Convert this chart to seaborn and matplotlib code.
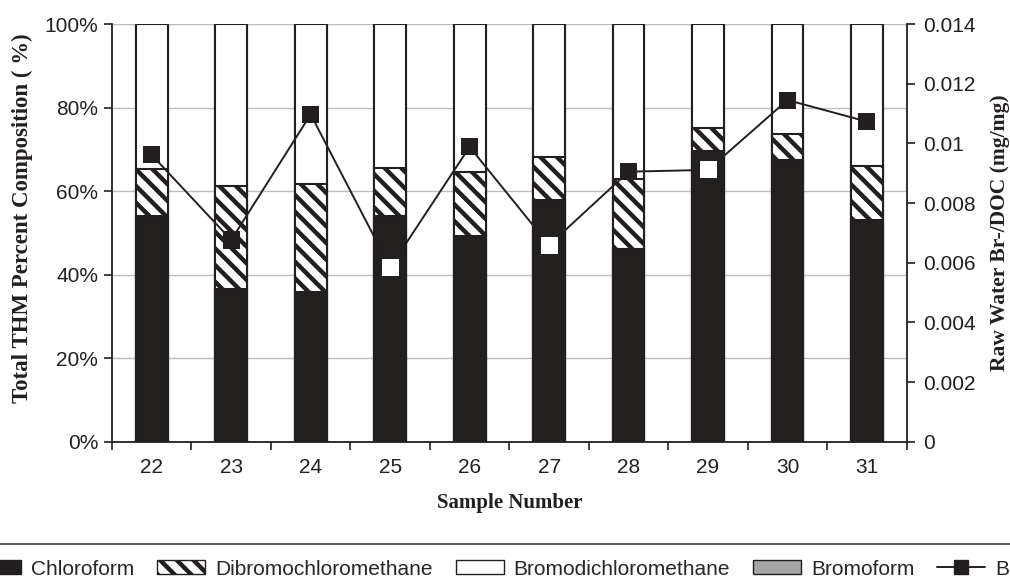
import numpy as np
import pandas as pd
import matplotlib
matplotlib.use("Agg")
import matplotlib.pyplot as plt
from matplotlib.patches import Patch
from matplotlib.lines import Line2D
from matplotlib.ticker import FuncFormatter, FixedLocator
import seaborn as sns

# THM composition per sample (% of total THM)
samples = ["22", "23", "24", "25", "26", "27", "28", "29", "30", "31"]
chloroform = [54.0, 36.5, 35.9, 54.0, 49.2, 57.9, 46.1, 69.6, 67.4, 53.1]
dibromochloromethane = [11.2, 24.8, 25.8, 11.5, 15.3, 10.3, 16.8, 5.4, 6.2, 13.0]
bromodichloromethane = [34.8, 38.7, 38.3, 34.5, 35.5, 31.8, 37.1, 25.0, 26.4, 33.9]
bromoform = [0.0, 0.0, 0.0, 0.0, 0.0, 0.0, 0.0, 0.0, 0.0, 0.0]
# raw water bromide to DOC ratio (mg/mg)
br_doc = [0.00961, 0.00676, 0.01097, 0.00584, 0.00988, 0.00659, 0.00905, 0.00911, 0.01145, 0.01073]

sns.set_theme(style="white")
plt.rcParams["font.family"] = ["Liberation Sans", "DejaVu Sans"]
plt.rcParams["hatch.linewidth"] = 3.2

INK = "#231f20"

df = pd.DataFrame({
    "sample": samples,
    "chl": chloroform,
    "dib": dibromochloromethane,
    "bdcm": bromodichloromethane,
    "brf": bromoform,
})
df["c1"] = df["chl"]
df["c2"] = df["c1"] + df["dib"]
df["c3"] = df["c2"] + df["bdcm"]
df["c4"] = df["c3"] + df["brf"]

fig = plt.figure(figsize=(10.1, 5.84), dpi=100)
ax = fig.add_axes([0.1109, 0.2437, 0.7868, 0.7152])

bar_w = 0.4
# draw the stack from the top segment down so each layer covers the one above it
sns.barplot(data=df, x="sample", y="c4", order=samples, color="#a6a6a6",
            width=bar_w, edgecolor=INK, linewidth=1.5, ax=ax)
sns.barplot(data=df, x="sample", y="c3", order=samples, color="white",
            width=bar_w, edgecolor=INK, linewidth=1.5, ax=ax)
sns.barplot(data=df, x="sample", y="c2", order=samples, color="white",
            width=bar_w, edgecolor=INK, linewidth=1.5, hatch="\\\\", ax=ax)
sns.barplot(data=df, x="sample", y="c1", order=samples, color=INK,
            width=bar_w, edgecolor=INK, linewidth=1.5, ax=ax)

ax.set_xlim(-0.5, len(samples) - 0.5)
ax.set_ylim(0, 100)
ax.set_yticks(np.arange(0, 101, 20))
ax.yaxis.set_major_formatter(FuncFormatter(lambda v, p: f"{v:.0f}%"))
ax.yaxis.grid(True, color="#bdbdbd", linewidth=1.0)
ax.set_axisbelow(True)
ax.xaxis.set_minor_locator(FixedLocator(np.arange(-0.5, len(samples), 1.0)))
ax.tick_params(axis="x", which="major", length=0, pad=12, labelsize=15, colors=INK)
ax.tick_params(axis="x", which="minor", length=6, width=1.2, direction="out", color=INK, bottom=True)
ax.tick_params(axis="y", length=6, width=1.2, direction="out", left=True, pad=4, labelsize=15, colors=INK)
for s in ["top", "right"]:
    ax.spines[s].set_visible(False)
for s in ["left", "bottom"]:
    ax.spines[s].set_color(INK)
    ax.spines[s].set_linewidth(1.3)

serif = ["Liberation Serif", "DejaVu Serif"]
ax.set_xlabel("Sample Number", labelpad=11, family=serif, weight="bold", size=15, color=INK)
ax.set_ylabel("Total THM Percent Composition ( %)", family=serif, weight="bold", size=16.5,
              color=INK, va="center")
ax.yaxis.set_label_coords(-0.113, 0.535)

# secondary axis: bromide / DOC ratio
ax2 = ax.twinx()
xpos = np.arange(len(samples))
sns.lineplot(x=xpos, y=br_doc, color=INK, linewidth=1.4, ax=ax2, legend=False)
pct_equiv = np.array(br_doc) / 0.014 * 100
face = ["white" if p < c else INK for p, c in zip(pct_equiv, chloroform)]
sns.scatterplot(x=xpos, y=br_doc, marker="s", s=150, c=face, edgecolor=face,
                linewidth=0, ax=ax2, legend=False, zorder=5)
ax2.set_ylim(0, 0.014)
ax2.set_yticks(np.arange(0, 0.0141, 0.002))
ax2.yaxis.set_major_formatter(FuncFormatter(lambda v, p: "0" if abs(v) < 1e-12 else f"{v:g}"))
ax2.tick_params(axis="y", length=6, width=1.2, direction="out", right=True, pad=6, labelsize=15, colors=INK)
for s in ["top", "left", "bottom"]:
    ax2.spines[s].set_visible(False)
ax2.spines["right"].set_color(INK)
ax2.spines["right"].set_linewidth(1.3)
ax2.set_ylabel("Raw Water Br-/DOC (mg/mg)", family=serif, weight="bold", size=15.5,
               color=INK, va="center")
ax2.yaxis.set_label_coords(1.1174, 0.5)
ax2.grid(False)

handles = [
    Patch(facecolor=INK, edgecolor=INK, label="Chloroform"),
    Patch(facecolor="white", edgecolor=INK, hatch="\\\\", label="Dibromochloromethane"),
    Patch(facecolor="white", edgecolor=INK, label="Bromodichloromethane"),
    Patch(facecolor="#a6a6a6", edgecolor=INK, label="Bromoform"),
    Line2D([0], [0], color=INK, linewidth=1.4, marker="s", markersize=10, label="Br-/DOC"),
]
leg = fig.legend(handles=handles, loc="upper left", bbox_to_anchor=(-0.042, 0.0685), ncol=5,
                 frameon=True, fontsize=15, handlelength=2.3, handleheight=0.65,
                 handletextpad=0.48, columnspacing=1.1, borderpad=0.75, borderaxespad=0,
                 fancybox=False)
leg.get_frame().set_edgecolor(INK)
leg.get_frame().set_linewidth(1.3)

fig.savefig("out.png", dpi=100)
